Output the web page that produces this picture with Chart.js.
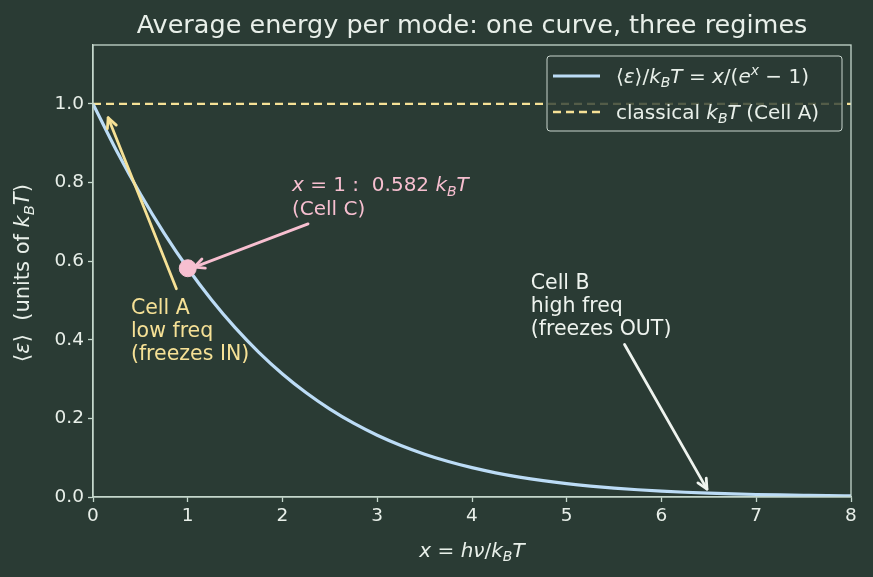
<!DOCTYPE html>
<html><head><meta charset="utf-8">
<script src="https://cdn.jsdelivr.net/npm/chart.js@4/dist/chart.umd.min.js"></script>
<style>html,body{margin:0;padding:0;background:#2a3b34;}#wrap{width:873px;height:577px;}</style>
</head><body><div id="wrap"><canvas id="c" width="873" height="577"></canvas></div>
<script>
const xValues = [0,0.25,0.5,0.75,1,1.25,1.5,1.75,2,2.25,2.5,2.75,3,3.25,3.5,3.75,4,4.25,4.5,4.75,5,5.25,5.5,5.75,6,6.25,6.5,6.75,7,7.25,7.5,7.75,8];
const energy = [1.0,0.8802,0.7708,0.6714,0.5820,0.5019,0.4308,0.3681,0.3130,0.2651,0.2236,0.1878,0.1572,0.1311,0.1090,0.0903,0.0746,0.0615,0.0506,0.0415,0.0339,0.0277,0.0226,0.0184,0.0149,0.0121,0.0098,0.0079,0.0064,0.0052,0.0042,0.0033,0.0027];
const classicalX = [0, 8];
const classicalY = [1.0, 1.0];
const markX = [1.0];
const markY = [0.582];
const xTicks = [0,1,2,3,4,5,6,7,8];
const yTicks = [0.0,0.2,0.4,0.6,0.8,1.0];

const BG = '#2a3b34', FG = '#e8efe9', AX = '#c5d8cc';
const BLUE = '#bcdcf6', YEL = '#f6e196', PINK = '#f7bfd0', WHITE = '#eef3ee';
const FONT = '"DejaVu Sans", sans-serif';

function rich(ctx, x, y, parts, size, color, align) {
  const segs = parts.map(([t, f]) => {
    f = f || '';
    const s = (f.includes('b') || f.includes('p')) ? size * 0.7 : size;
    const font = (f.includes('i') ? 'oblique ' : '') + s + 'px ' + FONT;
    ctx.font = font;
    return {t, f, font, w: ctx.measureText(t).width};
  });
  const total = segs.reduce((a, s) => a + s.w, 0);
  let cx = align === 'center' ? x - total / 2 : (align === 'right' ? x - total : x);
  ctx.fillStyle = color;
  ctx.textBaseline = 'alphabetic';
  ctx.textAlign = 'left';
  for (const s of segs) {
    ctx.font = s.font;
    let dy = 0;
    if (s.f.includes('b')) dy = size * 0.22;
    if (s.f.includes('p')) dy = -size * 0.4;
    ctx.fillText(s.t, cx, y + dy);
    cx += s.w;
  }
  return total;
}

function arrow(ctx, x1, y1, x2, y2, color) {
  const a = Math.atan2(y2 - y1, x2 - x1);
  ctx.save();
  ctx.strokeStyle = color; ctx.fillStyle = color; ctx.lineWidth = 2.8; ctx.lineCap = 'round'; ctx.lineJoin = 'round';
  ctx.beginPath(); ctx.moveTo(x1, y1); ctx.lineTo(x2, y2); ctx.stroke();
  const L = 11, w = 0.45;
  ctx.beginPath();
  ctx.moveTo(x2 - L * Math.cos(a - w), y2 - L * Math.sin(a - w));
  ctx.lineTo(x2, y2);
  ctx.lineTo(x2 - L * Math.cos(a + w), y2 - L * Math.sin(a + w));
  ctx.stroke();
  ctx.restore();
}

const deco = {
  id: 'deco',
  beforeDraw(chart) {
    const ctx = chart.ctx;
    ctx.save(); ctx.fillStyle = BG; ctx.fillRect(0, 0, chart.width, chart.height); ctx.restore();
  },
  afterDatasetsDraw(chart) {
    const ctx = chart.ctx, xs = chart.scales.x, ys = chart.scales.y, ca = chart.chartArea;
    const X = v => xs.getPixelForValue(v), Y = v => ys.getPixelForValue(v);
    ctx.save();
    ctx.strokeStyle = AX; ctx.lineWidth = 1.3;
    ctx.strokeRect(ca.left, ca.top, ca.right - ca.left, ca.bottom - ca.top);
    arrow(ctx, X(0.88), Y(0.53), X(0.16), Y(0.965), YEL);
    arrow(ctx, X(2.27), Y(0.695), X(1.07), Y(0.585), PINK);
    arrow(ctx, X(5.61), Y(0.388), X(6.48), Y(0.02), WHITE);
    ctx.font = '20.5px ' + FONT; ctx.textAlign = 'left'; ctx.textBaseline = 'alphabetic';
    ctx.fillStyle = YEL;
    ['Cell A', 'low freq', '(freezes IN)'].forEach((t, i) => ctx.fillText(t, X(0.40), Y(0.465) + i * 23));
    ctx.fillStyle = WHITE;
    ['Cell B', 'high freq', '(freezes OUT)'].forEach((t, i) => ctx.fillText(t, X(4.62), Y(0.53) + i * 23));
    rich(ctx, X(2.10), Y(0.778), [['x', 'i'], [' = 1 :  0.582 '], ['k', 'i'], ['B', 'ib'], ['T', 'i']], 20, PINK, 'left');
    ctx.font = '20px ' + FONT; ctx.fillStyle = PINK;
    ctx.fillText('(Cell C)', X(2.10), Y(0.718));
    // legend
    const lx = 547, ly = 56, lw = 295, lh = 75;
    ctx.fillStyle = 'rgba(42,59,52,0.8)';
    ctx.beginPath(); ctx.roundRect(lx, ly, lw, lh, 3); ctx.fill();
    ctx.strokeStyle = '#c8d5cd'; ctx.lineWidth = 1; ctx.stroke();
    ctx.lineWidth = 3; ctx.strokeStyle = BLUE; ctx.setLineDash([]);
    ctx.beginPath(); ctx.moveTo(553, 76); ctx.lineTo(600, 76); ctx.stroke();
    ctx.strokeStyle = YEL; ctx.lineWidth = 2.4; ctx.setLineDash([8, 5]);
    ctx.beginPath(); ctx.moveTo(553, 112); ctx.lineTo(600, 112); ctx.stroke();
    ctx.setLineDash([]);
    rich(ctx, 616, 83, [['⟨'], ['ε', 'i'], ['⟩/'], ['k', 'i'], ['B', 'ib'], ['T', 'i'], [' = '], ['x', 'i'], ['/('], ['e', 'i'], ['x', 'ip'], [' − 1)']], 20, FG, 'left');
    rich(ctx, 616, 119, [['classical '], ['k', 'i'], ['B', 'ib'], ['T', 'i'], [' (Cell A)']], 20, FG, 'left');
    // title
    ctx.font = '25.5px ' + FONT; ctx.fillStyle = FG; ctx.textAlign = 'center';
    ctx.fillText('Average energy per mode: one curve, three regimes', (ca.left + ca.right) / 2, 33);
    // x label
    rich(ctx, (ca.left + ca.right) / 2, 557, [['x', 'i'], [' = '], ['hν', 'i'], ['/'], ['k', 'i'], ['B', 'ib'], ['T', 'i']], 20, FG, 'center');
    // y label
    ctx.translate(29, 273);
    ctx.rotate(-Math.PI / 2);
    rich(ctx, 0, 0, [['⟨'], ['ε', 'i'], ['⟩  (units of '], ['k', 'i'], ['B', 'ib'], ['T', 'i'], [')']], 21, FG, 'center');
    ctx.restore();
  }
};

const curve = xValues.map((x, i) => ({x, y: energy[i]}));
const classical = classicalX.map((x, i) => ({x, y: classicalY[i]}));
const mark = markX.map((x, i) => ({x, y: markY[i]}));

new Chart(document.getElementById('c'), {
  type: 'scatter',
  data: {
    datasets: [
      {data: classical, showLine: true, borderColor: YEL, borderWidth: 2.2, borderDash: [8, 5], pointRadius: 0, order: 3},
      {data: curve, showLine: true, borderColor: BLUE, borderWidth: 3.2, pointRadius: 0, cubicInterpolationMode: 'monotone', order: 2},
      {data: mark, showLine: false, backgroundColor: PINK, borderColor: PINK, pointRadius: 8.5, order: 1}
    ]
  },
  plugins: [deco],
  options: {
    responsive: false, animation: false,
    layout: {padding: {left: 0, right: 22, top: 45, bottom: 0}},
    plugins: {legend: {display: false}, tooltip: {enabled: false}, title: {display: false}},
    scales: {
      x: {
        type: 'linear', min: 0, max: 8,
        afterBuildTicks: s => { s.ticks = xTicks.map(v => ({value: v})); },
        afterFit: s => { s.height = 80; },
        grid: {drawOnChartArea: false, color: AX, tickLength: 5, tickWidth: 1.3},
        border: {display: true, color: AX, width: 1.3},
        ticks: {color: FG, font: {family: FONT, size: 18.5}, padding: 3, maxRotation: 0, callback: v => String(v)}
      },
      y: {
        type: 'linear', min: 0, max: 1.15,
        afterBuildTicks: s => { s.ticks = yTicks.map(v => ({value: v})); },
        afterFit: s => { s.width = 93; },
        grid: {drawOnChartArea: false, color: AX, tickLength: 5, tickWidth: 1.3},
        border: {display: true, color: AX, width: 1.3},
        ticks: {color: FG, font: {family: FONT, size: 18.5}, padding: 4, callback: v => v.toFixed(1)}
      }
    }
  }
});
</script>
</body></html>
